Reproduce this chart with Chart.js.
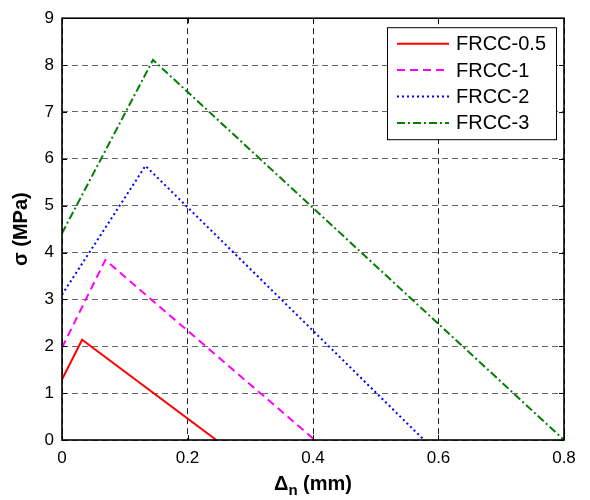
<!DOCTYPE html>
<html>
<head>
<meta charset="utf-8">
<script src="https://cdn.jsdelivr.net/npm/chart.js@4.4.1/dist/chart.umd.min.js"></script>
<style>
  html, body { margin: 0; padding: 0; background: #fff; }
  #c { display: block; }
</style>
</head>
<body>
<canvas id="c" width="590" height="500"></canvas>
<script>
// Crack opening (mm) and stress (MPa) for each fibre content
const seriesLabels = ['FRCC-0.5', 'FRCC-1', 'FRCC-2', 'FRCC-3'];
const openFRCC05 = [0, 0.032, 0.246];
const stressFRCC05 = [1.29, 2.14, 0];
const openFRCC1 = [0, 0.069, 0.403];
const stressFRCC1 = [1.97, 3.84, 0];
const openFRCC2 = [0, 0.133, 0.577];
const stressFRCC2 = [3.1, 5.85, 0];
const openFRCC3 = [0, 0.145, 0.8];
const stressFRCC3 = [4.41, 8.11, 0];

const xTicks = [0, 0.2, 0.4, 0.6, 0.8];
const yTicks = [0, 1, 2, 3, 4, 5, 6, 7, 8, 9];

const FONT = '"Liberation Sans", Arial, sans-serif';

function pts(xs, ys) { return xs.map((x, i) => ({ x: x, y: ys[i] })); }

const styles = [
  { color: '#ff0000', dash: [] },
  { color: '#ff00ff', dash: [8, 5] },
  { color: '#0000ff', dash: [2, 3] },
  { color: '#008000', dash: [8, 3, 2, 3] }
];
const seriesData = [
  pts(openFRCC05, stressFRCC05),
  pts(openFRCC1, stressFRCC1),
  pts(openFRCC2, stressFRCC2),
  pts(openFRCC3, stressFRCC3)
];

// Frame, inward ticks, axis titles and the boxed legend
const decorations = {
  id: 'decorations',
  afterDraw(chart) {
    const ctx = chart.ctx;
    const a = chart.chartArea;
    const xs = chart.scales.x, ys = chart.scales.y;
    ctx.save();
    ctx.strokeStyle = '#000';
    ctx.lineWidth = 1.6;
    ctx.setLineDash([]);
    ctx.strokeRect(a.left, a.top, a.right - a.left, a.bottom - a.top);
    ctx.lineWidth = 1;
    const tl = 5;
    ctx.beginPath();
    xTicks.forEach(v => {
      const px = Math.round(xs.getPixelForValue(v)) + 0.5;
      ctx.moveTo(px, a.bottom); ctx.lineTo(px, a.bottom - tl);
      ctx.moveTo(px, a.top); ctx.lineTo(px, a.top + tl);
    });
    yTicks.forEach(v => {
      const py = Math.round(ys.getPixelForValue(v)) + 0.5;
      ctx.moveTo(a.left, py); ctx.lineTo(a.left + tl, py);
      ctx.moveTo(a.right, py); ctx.lineTo(a.right - tl, py);
    });
    ctx.stroke();

    // axis titles
    ctx.fillStyle = '#000';
    ctx.textBaseline = 'middle';
    const t1 = '\u0394', t2 = 'n', t3 = ' (mm)';
    const big = 'bold 20px ' + FONT, small = 'bold 15px ' + FONT;
    ctx.font = big;
    const w1 = ctx.measureText(t1).width, w3 = ctx.measureText(t3).width;
    ctx.font = small;
    const w2 = ctx.measureText(t2).width;
    let x0 = (a.left + a.right) / 2 - (w1 + w2 + w3) / 2;
    const ty = 484;
    ctx.textAlign = 'left';
    ctx.font = big;
    ctx.fillText(t1, x0, ty);
    ctx.font = small;
    ctx.fillText(t2, x0 + w1, ty + 7);
    ctx.font = big;
    ctx.fillText(t3, x0 + w1 + w2, ty);

    ctx.save();
    ctx.translate(21, (a.top + a.bottom) / 2);
    ctx.rotate(-Math.PI / 2);
    ctx.textAlign = 'center';
    ctx.font = big;
    ctx.fillText('\u03c3 (MPa)', 0, 0);
    ctx.restore();

    // legend
    const bx = a.right - 177, by = a.top + 9, bw = 169, bh = 112;
    ctx.fillStyle = '#fff';
    ctx.fillRect(bx, by, bw, bh);
    ctx.strokeStyle = '#000';
    ctx.lineWidth = 1;
    ctx.strokeRect(bx + 0.5, by + 0.5, bw, bh);
    chart.data.datasets.forEach((ds, i) => {
      const ry = by + 16.5 + i * 26.4;
      ctx.strokeStyle = ds.borderColor;
      ctx.lineWidth = 2;
      ctx.setLineDash(ds.borderDash || []);
      ctx.beginPath();
      ctx.moveTo(bx + 10, ry);
      ctx.lineTo(bx + 62, ry);
      ctx.stroke();
      ctx.setLineDash([]);
      ctx.fillStyle = '#000';
      ctx.font = '20px ' + FONT;
      ctx.textAlign = 'left';
      ctx.textBaseline = 'middle';
      ctx.fillText(ds.label, bx + 69, ry + 1);
    });
    ctx.restore();
  }
};

new Chart(document.getElementById('c'), {
  type: 'scatter',
  data: {
    datasets: seriesLabels.map((label, i) => ({
      label: label,
      data: seriesData[i],
      showLine: true,
      borderColor: styles[i].color,
      backgroundColor: styles[i].color,
      borderDash: styles[i].dash,
      borderWidth: 2,
      pointRadius: 0,
      tension: 0
    }))
  },
  options: {
    responsive: false,
    animation: false,
    devicePixelRatio: 1,
    layout: { padding: { top: 13, right: 26, left: 0, bottom: 0 } },
    plugins: { legend: { display: false }, tooltip: { enabled: false } },
    scales: {
      x: {
        type: 'linear',
        min: 0, max: 0.8,
        afterBuildTicks(s) { s.ticks = xTicks.map(v => ({ value: v })); },
        afterFit(s) { s.height = 60; },
        ticks: {
          color: '#000',
          font: { family: FONT, size: 17 },
          padding: 8,
          maxRotation: 0,
          callback: v => String(v)
        },
        grid: { color: '#222', lineWidth: 1, drawTicks: false },
        border: { display: false, dash: [6, 4] }
      },
      y: {
        type: 'linear',
        min: 0, max: 9,
        afterBuildTicks(s) { s.ticks = yTicks.map(v => ({ value: v })); },
        afterFit(s) { s.width = 62; },
        ticks: {
          color: '#000',
          font: { family: FONT, size: 17 },
          padding: 8,
          callback: v => String(v)
        },
        grid: { color: '#666', lineWidth: 1, drawTicks: false },
        border: { display: false, dash: [6, 4] }
      }
    }
  },
  plugins: [decorations]
});
</script>
</body>
</html>
